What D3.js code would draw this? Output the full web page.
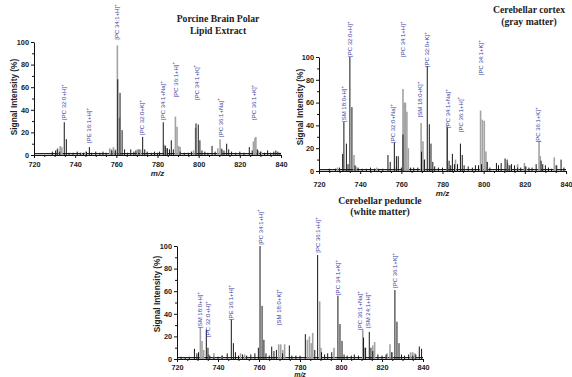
<!DOCTYPE html>
<html><head><meta charset="utf-8">
<script src="https://cdn.jsdelivr.net/npm/d3@7"></script>
<style>html,body{margin:0;padding:0;background:#fff;}svg{display:block;}</style>
</head><body><svg id="c" width="572" height="377"></svg>
<script>
// ---------- DATA ----------
const mzTicks = [720, 740, 760, 780, 800, 820, 840];
const intensityTicks = [0, 20, 40, 60, 80, 100];

// Panel 1: Porcine Brain Polar Lipid Extract  [m/z, intensity %]
const p1Black = [[728.9,3],[730.5,4],[731.3,5],[732.5,3],[734.7,29],[735.7,14],[737,2],[739,2],[741,3],[742.5,2],[744,2],[745.5,3],[746.9,7],[748,2],[750,3],[752,2],[753.5,3],[755,2],[757.8,4],[759.5,4],[760.7,67],[761.8,55],[762.8,22],[764,5],[765.5,2],[767,5],[768.5,3],[769.5,4],[771,5],[772.8,16],[773.8,5],[775,3],[777,2],[778.5,3],[780,2],[781,3],[782.8,29],[783.8,8],[784.8,6],[785.8,5],[786.7,13],[787.7,5],[791,3],[793,2],[795,2],[796.5,3],[798.7,28],[799.8,27],[800.6,13],[801.6,4],[803,3],[804.5,2],[806.5,8],[808,3],[811.3,5],[812.3,4],[813.6,10],[814.6,5],[816,3],[818,2],[820,3],[822,2],[824.6,7],[826,4],[828.5,5],[830,3],[832,2],[833.5,4],[835,2],[836.5,3],[837.5,4],[838.5,3],[839.5,2]];
const p1Gray = [[731.5,6],[732.7,8],[733.5,7],[743,2],[745,3],[756.8,6],[757.6,5],[758.6,7],[759.6,5],[760.5,97],[761.5,33],[770.2,5],[771.8,5],[783.5,9],[784.3,6],[788.7,34],[789.5,25],[790.3,8],[791,7],[797.5,4],[798.5,24],[809.3,6],[810.4,14],[811,6],[826.6,12],[827.3,15],[827.8,16],[829,4],[830.5,3]];
const p1Labels = [[734.4,"PC 32:0+H",31],[746.7,"PE 36:1+H",10.6],[760.3,"PC 34:1+H",102],[772.5,"PC 32:0+K",17.7],[782.5,"PC 34:1+Na",31],[788.7,"PC 36:1+H",51],[798.9,"PC 34:1+K",48.7],[810.6,"PC 36:1+Na",16],[826.7,"PC 36:1+K",31]];
const p1Title = ["Porcine Brain Polar", "Lipid Extract"];

// Panel 2: Cerebellar cortex (gray matter)
const p2Black = [[725,2],[728,2],[730,3],[731.5,15],[732.1,43],[733.3,24],[734.1,6],[735,100],[736,56],[737.5,5],[739,3],[741,2],[743,2],[745,3],[747,2],[749,2],[751,2],[753.5,14],[754.6,8],[756.6,25],[757.6,13],[758.5,13],[760,3],[760.8,32],[764.5,3],[766,3],[768,3],[769.8,17],[771.2,10],[772.6,92],[773.6,41],[774.4,24],[775.3,8],[776.2,4],[778,3],[780,3],[782.3,38],[783.2,9],[784,5],[784.8,15],[785.8,6],[787.3,6],[788.7,24],[789.6,14],[790.5,5],[792.5,4],[794.5,3],[796,5],[797.5,5],[799,6],[801.7,8],[803,3],[806.2,7],[807.2,5],[808.5,7],[810.4,11],[811.4,10],[812.4,5],[813.5,6],[815,5],[816.5,3],[818,3],[820.2,4],[822,3],[823.5,3],[825.5,6],[827.9,9],[828.7,6],[830,5],[831.5,3],[833,2],[835.5,5],[837.6,10],[839,3]];
const p2Gray = [[729,3],[737,14],[738,4],[748,3],[757.5,3],[760.8,72],[761.4,60],[762,60],[762.7,52],[763.4,20],[769.6,42],[770.5,26],[771.2,10],[782.3,40],[786.3,10],[798.5,53],[799.4,45],[800.3,44],[801.1,17],[801.7,8],[811.6,7],[813,5],[816.5,6],[819.8,7],[820.7,4],[826.9,26],[827.5,13],[834.3,12],[835,5]];
const p2Labels = [[732.1,"SM 18:0+H",43],[735.2,"PC 32:0+H",100],[756,"PC 32:0+Na",24.6],[760.8,"PC 34:1+H",100],[769.2,"SM 18:0+K",47],[772.5,"PC 32:0+K",91],[782.5,"PC 34:1+Na",37.7],[788.7,"PC 36:1+H",34],[798.7,"PC 34:1+K",84],[826.2,"PC 36:1+K",25]];
const p2Title = ["Cerebellar cortex", "(gray matter)"];

// Panel 3: Cerebellar peduncle (white matter)
const p3Black = [[722,2],[724,1],[726,2],[728.5,9],[729.7,5],[730.5,6],[734.3,26],[735.1,10],[736,3],[738,2],[740,2],[742,3],[744.5,5],[746.5,35],[747.5,14],[748.5,6],[750,3],[752,4],[754,3],[756,4],[758,5],[759.7,10],[760.5,100],[761.5,47],[762.4,17],[763.4,5],[765,3],[766.2,11],[767.3,7],[768.5,8],[771.5,5],[774.8,12],[776,3],[778,3],[780,3],[782.6,22],[787.2,8],[788.6,92],[790.5,6],[792,4],[793.5,5],[795.5,6],[798.5,56],[799.5,31],[800.5,16],[801.5,4],[803,3],[805,3],[806.5,4],[808.5,3],[811,19],[812,10],[813.8,24],[814.6,10],[815.5,7],[818,4],[820,3],[822,4],[824.8,6],[826.3,61],[827.3,33],[828.3,14],[829.5,4],[831,3],[833,4],[835,3],[836.5,4],[838.2,11],[839.3,9]];
const p3Gray = [[731.4,28],[732.2,16],[733,8],[735.5,4],[738,5],[742,3],[751,5],[753,4],[769.6,13],[770.6,13],[771.6,8],[772.5,13],[783.6,17],[784.6,20],[785.5,14],[786.2,23],[789.6,51],[790.2,10],[796.6,10],[810.6,26],[811.6,10],[815.5,12],[816.4,15],[822.5,5],[823.9,13],[824.8,6],[834,6],[835,6],[836,5]];
const p3Labels = [[731.1,"SM 18:0+H",27.4],[735.1,"PC 32:0+H",19.5],[746.5,"PE 36:1+H",34.5],[760.7,"PC 34:1+H",101],[769.6,"SM 18:0+K",30],[788.8,"PC 36:1+H",94],[798.5,"PC 34:1+K",56.6],[809.1,"PC 36:1+Na",25.7],[813.2,"SM 24:1+H",27.4],[826.5,"PC 36:1+K",62.8]];
const p3Title = ["Cerebellar peduncle", "(white matter)"];

// ---------- LAYOUT ----------
const panels = [
  {black:p1Black, gray:p1Gray, labels:p1Labels, title:p1Title, xr:[34,281], yr:[155,42], titleX:218, titleY:[22,34], ylabX:14, ylabY:97, tickLblY:167, mzY:176, mzSize:8},
  {black:p2Black, gray:p2Gray, labels:p2Labels, title:p2Title, xr:[319,566], yr:[171,57], titleX:529, titleY:[13,25], ylabX:300, ylabY:107, tickLblY:187, mzY:196, mzSize:8},
  {black:p3Black, gray:p3Gray, labels:p3Labels, title:p3Title, xr:[177,423], yr:[359,246], titleX:380, titleY:[204,215], ylabX:157, ylabY:294, tickLblY:369.5, mzY:376.5, mzSize:7}
];

const svg = d3.select("#c");
const sans = "'Liberation Sans', Arial, sans-serif";
const serif = "'Liberation Serif', 'Times New Roman', serif";
const labelColor = "#3d3da0";

panels.forEach(p => {
  const x = d3.scaleLinear().domain([720, 840]).range(p.xr);
  const y = d3.scaleLinear().domain([0, 100]).range(p.yr);
  const g = svg.append("g");

  // baseline noise line
  g.append("line").attr("x1", x(720)).attr("x2", x(840))
    .attr("y1", y(1.2)).attr("y2", y(1.2))
    .attr("stroke", "#222").attr("stroke-width", 1.1);

  // gray spectrum
  g.selectAll(".gp").data(p.gray).enter().append("line")
    .attr("x1", d => x(d[0])).attr("x2", d => x(d[0]))
    .attr("y1", y(0)).attr("y2", d => y(d[1]))
    .attr("stroke", "#a3a3a3").attr("stroke-width", 1.6);

  // black spectrum
  g.selectAll(".bp").data(p.black).enter().append("line")
    .attr("x1", d => x(d[0])).attr("x2", d => x(d[0]))
    .attr("y1", y(0)).attr("y2", d => y(d[1]))
    .attr("stroke", "#151515").attr("stroke-width", 1);

  // axes
  g.append("g").attr("transform", `translate(${p.xr[0]},0)`)
    .call(d3.axisLeft(y).tickValues(intensityTicks).tickSize(3).tickSizeOuter(0).tickPadding(2));
  g.append("g").attr("transform", `translate(${p.xr[0]},0)`)
    .call(d3.axisLeft(y).tickValues([10,30,50,70,90]).tickSize(2).tickFormat("").tickSizeOuter(0))
    .select(".domain").remove();
  const xAxis = g.append("g").attr("transform", `translate(0,${y(0)})`)
    .call(d3.axisBottom(x).tickValues(mzTicks).tickSize(3).tickSizeOuter(0).tickPadding(4));
  g.append("g").attr("transform", `translate(0,${y(0)})`)
    .call(d3.axisBottom(x).tickValues(d3.range(725, 840, 5).filter(v => v % 20 !== 0)).tickSize(2).tickFormat(""))
    .select(".domain").remove();

  g.selectAll(".tick text").attr("font-family", sans).attr("font-size", 7.3)
    .attr("font-weight", "bold").attr("fill", "#222");
  g.selectAll(".domain, .tick line").attr("stroke", "#111");
  xAxis.selectAll(".tick text").attr("y", null).attr("dy", null)
    .attr("transform", `translate(0,${p.tickLblY - y(0)})`);

  // axis titles
  g.append("text").attr("transform", `translate(${p.ylabX},${p.ylabY}) rotate(-90)`)
    .attr("text-anchor", "middle").attr("dy", "0.35em")
    .attr("font-family", sans).attr("font-size", 8.3).attr("font-weight", "bold")
    .attr("fill", "#222").text("Signal Intensity (%)");
  g.append("text").attr("x", (p.xr[0] + p.xr[1]) / 2).attr("y", p.mzY)
    .attr("text-anchor", "middle").attr("font-family", sans).attr("font-size", p.mzSize)
    .attr("font-style", "italic").attr("font-weight", "bold").attr("fill", "#222").text("m/z");

  // title
  p.title.forEach((t, i) => {
    g.append("text").attr("x", p.titleX).attr("y", p.titleY[i])
      .attr("text-anchor", "middle").attr("font-family", serif)
      .attr("font-size", 9.7).attr("font-weight", "bold").attr("fill", "#222").text(t);
  });

  // peak annotations
  p.labels.forEach(l => {
    const t = g.append("text")
      .attr("transform", `translate(${x(l[0])},${y(l[2])}) rotate(-90)`)
      .attr("dy", "0.35em").attr("font-family", sans).attr("font-size", 6)
      .attr("fill", labelColor);
    t.append("tspan").text("[" + l[1] + "]");
    t.append("tspan").attr("dy", "-2.2").attr("font-size", 4.5).text("+");
  });
});
</script></body></html>
